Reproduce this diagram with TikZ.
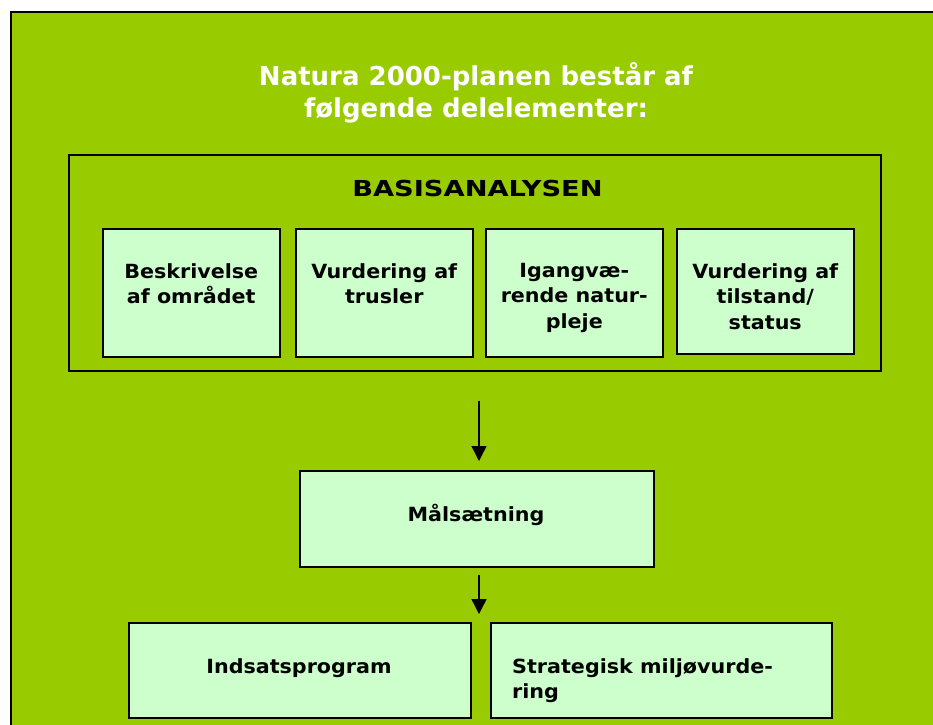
\documentclass[tikz,border=0pt]{standalone}
\usepackage{fontspec}
\setmainfont{DejaVu Sans}
\newfontfamily\boxfont{DejaVu Sans}[FakeStretch=1.06]
\newfontfamily\basfont{DejaVu Sans}[FakeStretch=1.24]
\usetikzlibrary{arrows.meta}
\definecolor{bggreen}{HTML}{99CC00}
\definecolor{boxgreen}{HTML}{CCFFCC}
\begin{document}
\begin{tikzpicture}[x=1pt,y=-1pt,
  part/.style={draw=black,line width=1.5pt,fill=boxgreen,inner sep=0pt,anchor=north west},
  frame/.style={draw=black,line width=1.5pt,inner sep=0pt,anchor=north west},
  boxtext/.style={inner sep=0pt,align=center,font=\boxfont\bfseries\fontsize{19.5}{25.5}\selectfont},
  flow/.style={line width=1.3pt,-{Triangle[length=15pt,width=15pt]}}]
\useasboundingbox (0,0) rectangle (933,724);
\clip (0,0) rectangle (933,724);
\fill[white] (0,0) rectangle (933,724);
\draw[line width=2pt,fill=bggreen] (10.5,11.5) rectangle (960,760);

\node[anchor=north,inner sep=0pt,align=center,text=white,
      font=\bfseries\fontsize{26}{32}\selectfont] (title) at (476,62.2)
      {Natura 2000-planen består af\\følgende delelementer:};

\node[frame,minimum width=812pt,minimum height=216pt] (basis) at (68,154) {};
\node[anchor=base,inner sep=0pt,font=\basfont\bfseries\fontsize{22}{26}\selectfont] (bt) at (477.5,196) {BASISANALYSEN};

\node[part,minimum width=177pt,minimum height=128pt] (b1) at (102,228) {};
\node[part,minimum width=177pt,minimum height=128pt] (b2) at (295,228) {};
\node[part,minimum width=177pt,minimum height=128pt] (b3) at (485,228) {};
\node[part,minimum width=177pt,minimum height=125pt] (b4) at (676,228) {};
\node[boxtext,anchor=north] (t1) at ([yshift=-35pt]b1.north) {Beskrivelse\\af området};
\node[boxtext,anchor=north] (t2) at ([yshift=-35pt]b2.north) {Vurdering af\\trusler};
\node[boxtext,anchor=north] (t3) at ([yshift=-35pt]b3.north) {Igangvæ-\\rende natur-\\pleje};
\node[boxtext,anchor=north] (t4) at ([yshift=-35pt]b4.north) {Vurdering af\\tilstand/\\status};

\node[part,minimum width=354pt,minimum height=96pt] (mal) at (299,470) {};
\node[boxtext,anchor=base] (tm) at (476,521) {Målsætning};

\node[part,minimum width=342pt,minimum height=95pt] (ind) at (128,622) {};
\node[boxtext,anchor=base] (ti) at (299,673) {Indsatsprogram};
\node[part,minimum width=341pt,minimum height=95pt] (sma) at (490,622) {};
\node[boxtext,align=left,anchor=north west] (ts) at (512,658.2) {Strategisk miljøvurde-\\ring};

\coordinate (ax) at (479,0);
\draw[flow,shorten <=29pt,shorten >=9pt] (basis.south -| ax) -- (mal.north -| ax);
\draw[flow,shorten <=7pt,shorten >=8pt] (mal.south -| ax) -- (ind.north -| ax);
\end{tikzpicture}
\end{document}
